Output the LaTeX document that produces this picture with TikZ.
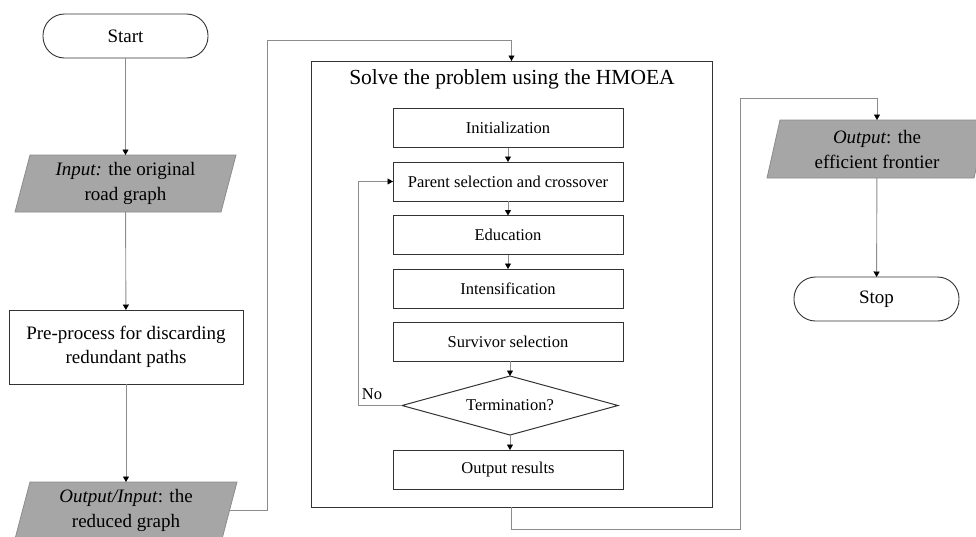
\documentclass[tikz,border=0pt]{standalone}
\usepackage{fontspec}
\setmainfont{Liberation Serif}
\usetikzlibrary{arrows.meta,shapes.geometric,backgrounds,calc}
\definecolor{conncol}{HTML}{8C8C8C}
\definecolor{parafill}{HTML}{A6A6A6}
\definecolor{boxcol}{HTML}{333333}
\tikzset{
  conn/.style={draw=conncol, line width=0.9pt},
  arr/.style={conn, -{Triangle[width=6pt,length=5.5pt,color=black]}},
  bigtxt/.style={font=\fontsize{19}{25}\selectfont, align=center},
  smalltxt/.style={font=\fontsize{16.5}{20}\selectfont, align=center},
  termbox/.style={draw=boxcol, line width=0.9pt, rounded corners=21.5pt, minimum width=165pt, minimum height=44pt, bigtxt, outer sep=0pt},
  probox/.style={draw=boxcol, line width=1pt, outer sep=0pt},
  innerbox/.style={probox, minimum width=230pt, minimum height=39pt, smalltxt},
  paranode/.style={bigtxt, inner sep=0pt, outer sep=0pt},
  parashape/.style={fill=parafill, draw=conncol, line width=0.8pt},
  decis/.style={diamond, draw=boxcol, line width=1pt, minimum width=216pt, minimum height=59pt, aspect=3.66, inner sep=0pt, outer sep=0pt, smalltxt}
}
\begin{document}
\begin{tikzpicture}[x=1pt,y=-1pt]
\useasboundingbox (0,0) rectangle (976,536);
% left column
\node[termbox] (start) at (125.5,36) {Start};
\node[paranode, minimum width=221pt, minimum height=57pt] (inp) at (125.5,183.5) {\textit{Input:} the original\\road graph};
\node[probox, bigtxt, font=\fontsize{19}{24}\selectfont, minimum width=234pt, minimum height=74pt] (pre) at (126,347) {Pre-process for discarding\\redundant paths};
\node[paranode, minimum width=222pt, minimum height=57pt] (oi) at (126,510.5) {\textit{Output/Input}: the\\reduced graph};
% middle block
\node[probox, minimum width=401pt, minimum height=446pt] (outer) at (511.5,284) {};
\node[font=\fontsize{21.5}{26}\selectfont] (title) at (512,79) {Solve the problem using the HMOEA};
\node[innerbox] (init) at (508,128) {Initialization};
\node[innerbox] (par) at (508,181.5) {Parent selection and crossover};
\node[innerbox] (edu) at (508,235) {Education};
\node[innerbox] (inten) at (508,288.5) {Intensification};
\node[innerbox] (surv) at (508,341.5) {Survivor selection};
\node[decis] (term) at (510,405.5) {Termination?};
\node[innerbox] (outres) at (508,469.5) {Output results};
% right column
\node[paranode, minimum width=220pt, minimum height=58pt] (outp) at (877,149) {\textit{Output}: the\\efficient frontier};
\node[termbox] (stop) at (876.5,299) {Stop};
% parallelogram shapes
\begin{scope}[on background layer]
\filldraw[parashape] ([xshift=15pt]inp.north west) -- (inp.north east) -- ([xshift=-15pt]inp.south east) -- (inp.south west) -- cycle;
\filldraw[parashape] ([xshift=15pt]oi.north west) -- (oi.north east) -- ([xshift=-15pt]oi.south east) -- (oi.south west) -- cycle;
\filldraw[parashape] ([xshift=13pt]outp.north west) -- (outp.north east) -- ([xshift=-13pt]outp.south east) -- (outp.south west) -- cycle;
\end{scope}
% helper coordinates
\coordinate (j1) at (267,40);
\coordinate (j2) at (740,529);
\coordinate (j3) at (740,98);
\coordinate (noturn) at (358,405.5);
% connectors
\draw[arr] (start) -- (inp);
\draw[arr] (inp) -- (pre);
\draw[arr] (pre) -- (oi);
\draw[arr] ([xshift=-7.5pt]oi.east) -| (j1) -| (outer.north);
\draw[arr] (init) -- (par);
\draw[arr] (par) -- (edu);
\draw[arr] (edu) -- (inten);
\draw[arr] (surv.south -| term.north) -- (term.north);
\draw[arr] (term.south) -- (term.south |- outres.north);
\draw[arr] (term.west) -- (noturn) |- (par.west);
\node[smalltxt] (no) at (372,394) {No};
\draw[arr] (outer.south) |- (j2) -- (j3) -| (outp.north);
\draw[arr] (outp) -- (stop);
\end{tikzpicture}
\end{document}
